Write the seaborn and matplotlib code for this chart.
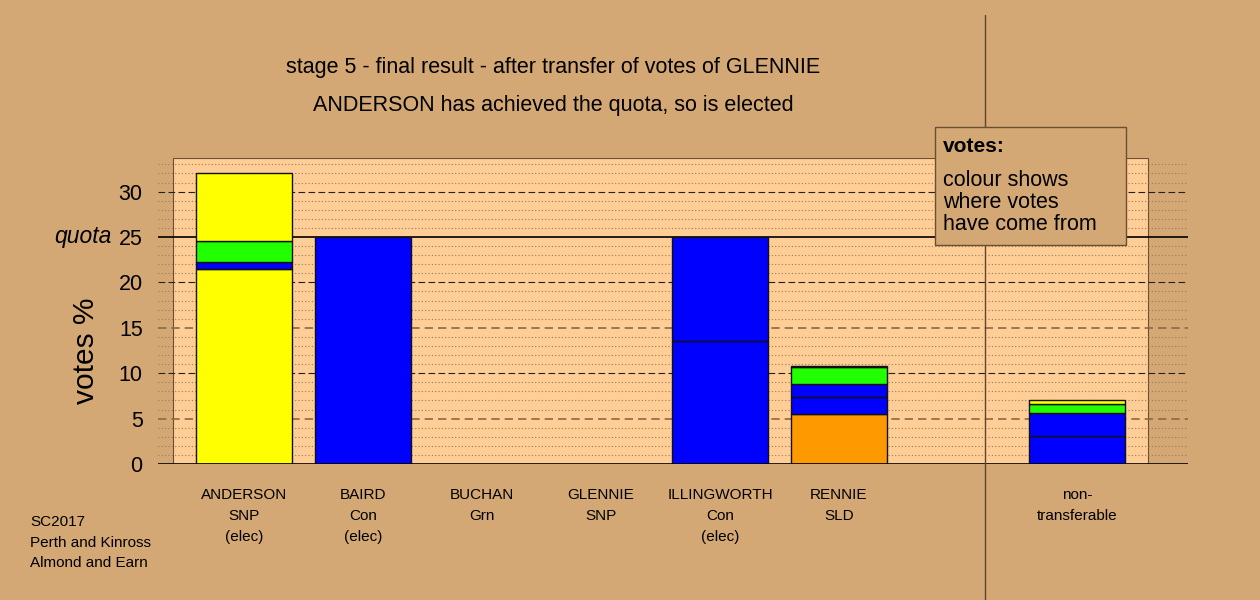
import matplotlib
matplotlib.use("Agg")
import matplotlib.pyplot as plt
import seaborn as sns
from matplotlib.patches import Rectangle
from matplotlib.lines import Line2D

candidates = ["ANDERSON", "BAIRD", "BUCHAN", "GLENNIE", "ILLINGWORTH", "RENNIE"]
parties = ["SNP", "Con", "Grn", "SNP", "Con", "SLD"]
elected = [True, True, False, False, True, False]

# stacked segments, bottom to top: (where the votes came from, votes %)
anderson = [("SNP", 21.5), ("Con", 0.7), ("Grn", 2.4), ("SNP", 7.45)]
baird = [("Con", 25.0)]
buchan = []
glennie = []
illingworth = [("Con", 13.55), ("Con", 11.45)]
rennie = [("SLD", 5.55), ("Con", 1.85), ("Con", 1.4), ("Grn", 1.9), ("SNP", 0.12)]
non_transferable = [("Con", 3.1), ("Con", 2.5), ("Grn", 1.0), ("SNP", 0.45)]

quota = 25.0
title1 = "stage 5 - final result - after transfer of votes of GLENNIE"
title2 = "ANDERSON has achieved the quota, so is elected"
footer = "SC2017\nPerth and Kinross\nAlmond and Earn"

party_colours = {"SNP": "#FFFF00", "Con": "#0000FF", "Grn": "#22FF00", "SLD": "#FF9900"}
bg = "#D4A874"
panel = "#FFCD96"

sns.set_style("white", rc={"text.color": "black", "xtick.color": "black",
                           "ytick.color": "black", "axes.labelcolor": "black"})
plt.rcParams["font.family"] = ["Liberation Sans", "DejaVu Sans"]

fig = plt.figure(figsize=(12.6, 6), dpi=100, facecolor=bg)
ax = fig.add_axes([158 / 1260, 136 / 600, 1030 / 1260, 306 / 600])
ax.set_facecolor("none")
for s in ax.spines.values():
    s.set_visible(False)

stacks = [anderson, baird, buchan, glennie, illingworth, rennie, non_transferable]
positions = [0, 1, 2, 3, 4, 5, 7]
labels = []
for name, party, el in zip(candidates, parties, elected):
    labels.append(name + "\n" + party + ("\n(elec)" if el else ""))
labels.append("non-\ntransferable")

ax.set_xlim(-0.723, 7.933)
ax.set_ylim(0, 33.7)

# light panel behind the bars
ax.add_patch(Rectangle((-0.6, 0), 8.2, 33.7, facecolor=panel, edgecolor="#6b4f30",
                       lw=0.8, zorder=0))

for v in range(1, 34):
    if v % 5:
        ax.axhline(v, color="#9a7c58", lw=0.8, ls=(0, (1, 2)), zorder=1)
for v in [5, 15]:
    ax.axhline(v, color="#8a6a44", lw=1.2, ls=(0, (5, 3)), zorder=1)
for v in [10, 20, 30]:
    ax.axhline(v, color="#222222", lw=0.8, ls=(0, (6, 3)), zorder=1)
ax.axhline(quota, color="black", lw=1.2, zorder=1)
ax.axhline(0, color="black", lw=1.2, zorder=4)

for pos, segs in zip(positions, stacks):
    bottom = 0.0
    for src, val in segs:
        ax.bar(pos, val, bottom=bottom, width=0.8, color=party_colours[src],
               edgecolor="#111111", lw=1.0, zorder=3)
        bottom += val

ax.set_xticks(positions, labels)
ax.set_yticks(range(0, 31, 5))
ax.tick_params(axis="x", length=0, pad=17, labelsize=11)
ax.tick_params(axis="y", length=0, pad=11, labelsize=15.5)
for t in ax.get_xticklabels():
    t.set_linespacing(1.65)
    t.set_va("top")

ax.text(-1.11, quota, "quota", style="italic", fontsize=16.5, ha="right", va="center")
fig.text(86 / 1260, 1 - 351 / 600, "votes %", rotation=90, fontsize=21.5,
         ha="center", va="center")

fig.text(553 / 1260, 1 - 67 / 600, title1, fontsize=15.5, ha="center", va="center")
fig.text(553 / 1260, 1 - 105 / 600, title2, fontsize=15.5, ha="center", va="center")
fig.text(30 / 1260, 1 - 515 / 600, footer, fontsize=11, ha="left", va="top",
         linespacing=1.6)

# separator between candidates and non-transferable
fig.add_artist(Line2D([985 / 1260, 985 / 1260], [1 - 15 / 600, 0], color="#5a4630",
                      lw=1.0, zorder=5))

# legend box
fig.add_artist(Rectangle((935 / 1260, 1 - 245 / 600), 191 / 1260, 118 / 600,
                         transform=fig.transFigure, facecolor=bg, edgecolor="#6b4f30",
                         lw=1.0, zorder=6))
fig.text(943 / 1260, 1 - 147 / 600, "votes:", fontsize=15, fontweight="bold",
         ha="left", va="center", zorder=7)
fig.text(943 / 1260, 1 - 170 / 600, "colour shows\nwhere votes\nhave come from",
         fontsize=15.5, ha="left", va="top", linespacing=1.05, zorder=7)

fig.savefig("out.png", dpi=100, facecolor=bg)
